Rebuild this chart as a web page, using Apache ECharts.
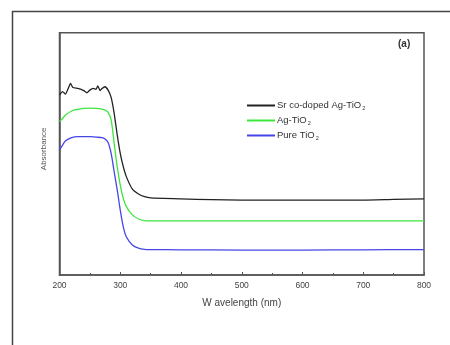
<!DOCTYPE html>
<html>
<head>
<meta charset="utf-8">
<script src="https://cdn.jsdelivr.net/npm/echarts@6/dist/echarts.min.js"></script>
<style>
  html, body { margin: 0; padding: 0; background: #fff; }
  #chart { width: 450px; height: 345px; }
</style>
</head>
<body>
<div id="chart"></div>
<script>
// UV-Vis absorbance spectra (arbitrary units)
const xTicks = [200, 300, 400, 500, 600, 700, 800];

const wlSr = [200, 205, 210, 215, 218, 222, 230, 240, 245, 250, 255, 260, 263, 267, 270, 275, 280, 285, 290, 295, 300, 305, 310, 320, 330, 340, 350, 400, 450, 500, 600, 700, 750, 800];
const absSr = [0.743, 0.757, 0.747, 0.774, 0.791, 0.774, 0.770, 0.761, 0.752, 0.763, 0.770, 0.766, 0.780, 0.761, 0.770, 0.777, 0.763, 0.733, 0.667, 0.578, 0.502, 0.447, 0.406, 0.354, 0.334, 0.323, 0.318, 0.314, 0.311, 0.309, 0.309, 0.309, 0.312, 0.314];

const wlRef = [200, 205, 210, 220, 230, 240, 250, 260, 270, 275, 280, 285, 290, 295, 300, 305, 310, 320, 330, 340, 350, 400, 500, 600, 700, 800];
const absAg = [0.633, 0.646, 0.660, 0.677, 0.684, 0.688, 0.689, 0.688, 0.685, 0.681, 0.671, 0.640, 0.543, 0.447, 0.371, 0.316, 0.282, 0.248, 0.231, 0.224, 0.223, 0.223, 0.223, 0.223, 0.223, 0.223];
const absPure = [0.516, 0.536, 0.554, 0.567, 0.571, 0.571, 0.571, 0.569, 0.567, 0.561, 0.547, 0.502, 0.426, 0.351, 0.268, 0.199, 0.158, 0.124, 0.111, 0.106, 0.105, 0.104, 0.103, 0.103, 0.104, 0.105];

const seriesNames = ['Sr co-doped Ag-TiO2', 'Ag-TiO2', 'Pure TiO2'];
const legendText = {
  'Sr co-doped Ag-TiO2': '{t|Sr co-doped Ag-TiO}{s|2}',
  'Ag-TiO2': '{t|Ag-TiO}{s|2}',
  'Pure TiO2': '{t|Pure TiO}{s|2}'
};

const pairs = (xs, ys) => xs.map((x, i) => [x, ys[i]]);
const FONT = '"Liberation Sans", Arial, sans-serif';
const frameColor = '#555';

const chart = echarts.init(document.getElementById('chart'), null, { renderer: 'canvas' });

chart.setOption({
  animation: false,
  backgroundColor: '#fff',
  grid: {
    left: 59.5, top: 32.7, width: 364.5, height: 242.3,
    show: true, borderColor: frameColor, borderWidth: 1.5, backgroundColor: 'transparent'
  },
  legend: {
    orient: 'vertical',
    left: 242, top: 95,
    itemWidth: 28, itemHeight: 2, itemGap: 4,
    icon: 'rect',
    data: seriesNames,
    formatter: name => legendText[name],
    textStyle: {
      fontFamily: FONT, color: '#333', padding: [0, 0, 0, -3],
      rich: {
        t: { fontFamily: FONT, fontSize: 9.5, color: '#333', lineHeight: 13 },
        s: { fontFamily: FONT, fontSize: 5.5, color: '#333', lineHeight: 13, padding: [5, 0, 0, 1] }
      }
    }
  },
  xAxis: {
    type: 'value', min: 200, max: 800, interval: 100,
    name: 'W avelength (nm)', nameLocation: 'middle', nameGap: 23,
    nameTextStyle: { fontFamily: FONT, fontSize: 10, color: '#444' },
    axisLine: { lineStyle: { color: frameColor, width: 1.5 } },
    axisTick: { inside: true, length: 3, lineStyle: { color: frameColor, width: 1 } },
    minorTick: { show: true, splitNumber: 2, length: 2, lineStyle: { color: frameColor, width: 1 } },
    splitLine: { show: false },
    axisLabel: {
      fontFamily: FONT, fontSize: 8.5, color: '#444', margin: 6,
      formatter: v => (xTicks.includes(v) ? String(v) : '')
    }
  },
  yAxis: {
    type: 'value', min: 0, max: 1,
    name: 'Absorbance', nameLocation: 'middle', nameGap: 12, nameRotate: 90,
    nameTextStyle: { fontFamily: FONT, fontSize: 8, color: '#555', padding: [0, 0, 0, 10] },
    axisLine: { show: true, lineStyle: { color: frameColor, width: 1.5 } },
    axisTick: { show: false },
    axisLabel: { show: false },
    splitLine: { show: false }
  },
  graphic: [
    {
      type: 'rect', silent: true,
      shape: { x: 12.5, y: 11.5, width: 460, height: 360 },
      style: { fill: 'none', stroke: '#444', lineWidth: 1.5 }
    },
    {
      type: 'text', left: 398, top: 39,
      style: { text: '(a)', fontFamily: FONT, fontSize: 10, fontWeight: 'bold', fill: '#333' }
    }
  ],
  series: [
    {
      name: seriesNames[0], type: 'line', data: pairs(wlSr, absSr),
      showSymbol: false, smooth: 0.15,
      lineStyle: { color: '#222', width: 1.3 }, itemStyle: { color: '#222' }
    },
    {
      name: seriesNames[1], type: 'line', data: pairs(wlRef, absAg),
      showSymbol: false, smooth: 0.3,
      lineStyle: { color: '#3de63d', width: 1.3 }, itemStyle: { color: '#3de63d' }
    },
    {
      name: seriesNames[2], type: 'line', data: pairs(wlRef, absPure),
      showSymbol: false, smooth: 0.3,
      lineStyle: { color: '#4646e8', width: 1.3 }, itemStyle: { color: '#4646e8' }
    }
  ]
});
</script>
</body>
</html>
